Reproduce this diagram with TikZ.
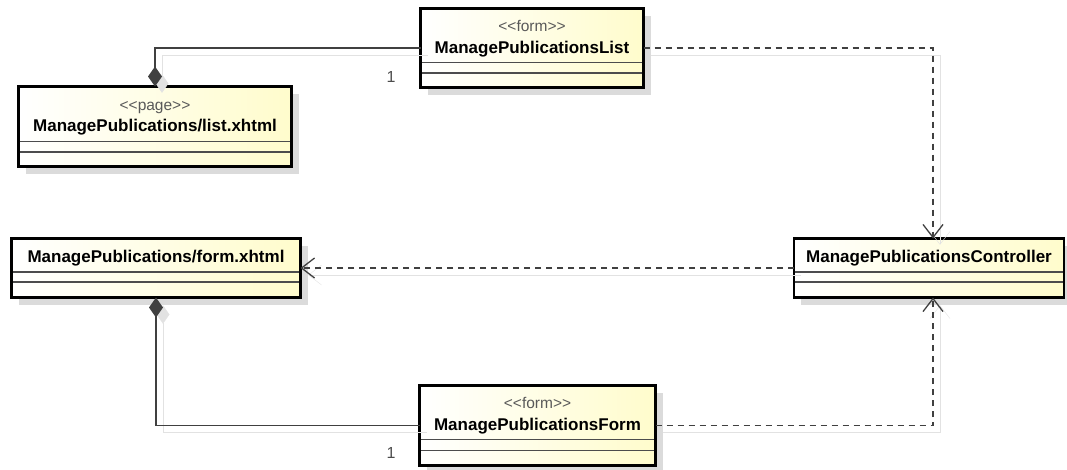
\documentclass[tikz,border=0pt]{standalone}
\usepackage{fontspec}
\setmainfont{Liberation Sans}
\usepackage{xcolor}
\usetikzlibrary{positioning, calc, arrows.meta, shadows}
\definecolor{classyellow}{RGB}{255, 252, 204}
\definecolor{lineshadow}{RGB}{226, 226, 226}
% keeps << and >> from turning into guillemets
\newcommand{\stereotype}[1]{<\kern0pt<#1>\kern0pt>}

\begin{document}
\begin{tikzpicture}[
                x=1pt, y=1pt,
                % class box with gradient and shadow
                classbox/.style={
                    rectangle,
                    draw=black, line width=2.5pt,
                    left color=white, right color=classyellow,
                    inner sep=0pt, outer sep=0pt,
                    drop shadow={shadow xshift=7pt, shadow yshift=-7pt, fill=black!14, opacity=1}
                },
                % separator between compartments
                compline/.style={
                    draw=black!70, line width=1.2pt,
                    shorten <=1.25pt, shorten >=1.25pt
                },
                classname/.style={
                    font=\fontsize{17}{20}\selectfont\bfseries, anchor=base
                },
                stereo/.style={
                    font=\fontsize{15.5}{18}\selectfont, text=black!65, anchor=base
                },
                mult/.style={
                    font=\fontsize{16}{19}\selectfont, text=black!70
                },
                % composition (filled diamond on the whole side)
                compose/.style={
                    draw=black!75, line width=1.3pt,
                    arrows={Diamond[length=20pt, width=14pt]-},
                    preaction={draw=lineshadow, transform canvas={shift={(7,-7)}}}
                },
                % dependency (dashed, open arrow)
                depend/.style={
                    draw=black!75, line width=1.3pt, dash pattern=on 6pt off 5pt,
                    -{Straight Barb[length=13pt, width=20pt]},
                    preaction={draw=lineshadow, solid, transform canvas={shift={(7,-7)}}}
                }
            ]
                \useasboundingbox (0,0) rectangle (1067,-469);

                % 1. Class boxes
                \node[classbox, minimum width=223pt, minimum height=79pt] (list) at (532,-48) {};
                \node[stereo] (liststereo) at (532,-31) {\stereotype{form}};
                \node[classname] (listname) at (532,-53) {ManagePublicationsList};

                \node[classbox, minimum width=273pt, minimum height=80pt] (page) at (155,-126.5) {};
                \node[stereo] (pagestereo) at (155,-110) {\stereotype{page}};
                \node[classname] (pagename) at (155,-131) {ManagePublications/list.xhtml};

                \node[classbox, minimum width=289pt, minimum height=59pt] (formpage) at (156,-268) {};
                \node[classname] (formpagename) at (156,-262.5) {ManagePublications/form.xhtml};

                \node[classbox, minimum width=270pt, minimum height=59pt] (ctrl) at (929,-268) {};
                \node[classname] (ctrlname) at (929,-262.5) {ManagePublicationsController};

                \node[classbox, minimum width=236pt, minimum height=80pt] (form) at (537.5,-425.5) {};
                \node[stereo] (formstereo) at (537.5,-408) {\stereotype{form}};
                \node[classname] (formname) at (537.5,-430) {ManagePublicationsForm};

                % 2. Compartment lines
                \draw[compline] ([yshift=25pt]list.south west) -- ([yshift=25pt]list.south east);
                \draw[compline] ([yshift=14.5pt]list.south west) -- ([yshift=14.5pt]list.south east);
                \draw[compline] ([yshift=25pt]page.south west) -- ([yshift=25pt]page.south east);
                \draw[compline] ([yshift=14.5pt]page.south west) -- ([yshift=14.5pt]page.south east);
                \draw[compline] ([yshift=25.5pt]formpage.south west) -- ([yshift=25.5pt]formpage.south east);
                \draw[compline] ([yshift=15.5pt]formpage.south west) -- ([yshift=15.5pt]formpage.south east);
                \draw[compline] ([yshift=25.5pt]ctrl.south west) -- ([yshift=25.5pt]ctrl.south east);
                \draw[compline] ([yshift=15.5pt]ctrl.south west) -- ([yshift=15.5pt]ctrl.south east);
                \draw[compline] ([yshift=26pt]form.south west) -- ([yshift=26pt]form.south east);
                \draw[compline] ([yshift=15pt]form.south west) -- ([yshift=15pt]form.south east);

                % 3. Compositions
                \draw[compose] (page.north) |- (list.west);
                \draw[compose] (formpage.south) |- (form.west);
                \node[mult] (listmult) at (391,-77) {1};
                \node[mult] (formmult) at (391,-453) {1};

                % 4. Dependencies on the controller
                \draw[depend] (list.east) -| ([xshift=4pt]ctrl.north);
                \draw[depend] (ctrl.west) -- (formpage.east);
                \draw[depend] (form.east) -| ([xshift=4pt]ctrl.south);

            \end{tikzpicture}
\end{document}
